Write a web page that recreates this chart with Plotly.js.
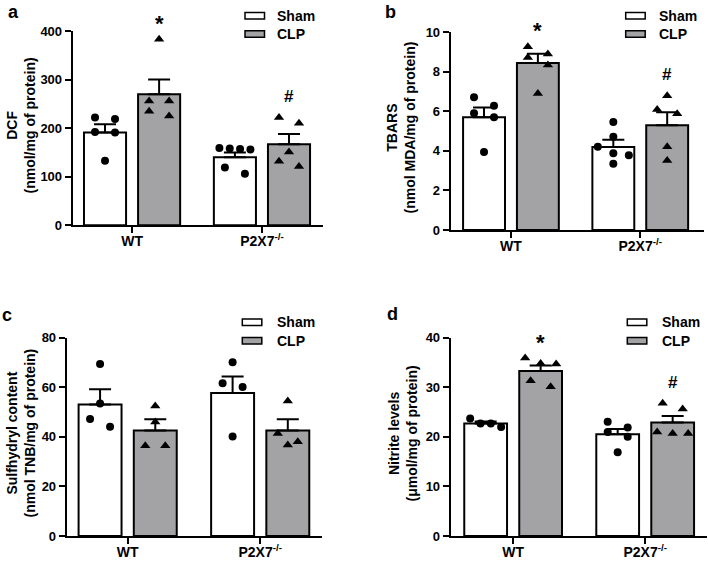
<!DOCTYPE html>
<html><head><meta charset="utf-8">
<script src="https://cdn.plot.ly/plotly-3.0.1.min.js"></script>
<style>html,body{margin:0;padding:0;background:#fff}#chart{width:708px;height:561px}</style>
</head><body><div id="chart"></div>
<script>
// ---------------- DATA ----------------
const groups = ['WT', 'P2X7<sup>-/-</sup>'];
const seriesNames = ['Sham', 'CLP'];

// a: DCF
const dcfShamMean = [191, 140];
const dcfShamSem  = [17, 10];
const dcfClpMean  = [270, 167];
const dcfClpSem   = [30, 21];
const dcfShamWT = [222, 219, 192, 191, 133];
const dcfShamKO = [159, 158, 157, 156, 119, 106];
const dcfClpWT  = [383, 256, 256, 235, 225];
const dcfClpKO  = [222, 210, 151, 132, 121];
const dcfSig = ['*', '#'];

// b: TBARS
const tbarsShamMean = [5.70, 4.20];
const tbarsShamSem  = [0.49, 0.37];
const tbarsClpMean  = [8.45, 5.30];
const tbarsClpSem   = [0.47, 0.65];
const tbarsShamWT = [6.71, 6.29, 5.90, 5.70, 3.95];
const tbarsShamKO = [5.46, 4.72, 4.21, 3.88, 3.78, 3.35];
const tbarsClpWT  = [9.27, 8.90, 8.73, 8.35, 6.91];
const tbarsClpKO  = [6.79, 6.09, 5.88, 4.21, 3.51];
const tbarsSig = ['*', '#'];

// c: Sulfhydryl content
const shShamMean = [53.1, 57.7];
const shShamSem  = [6.1, 6.6];
const shClpMean  = [42.6, 42.6];
const shClpSem   = [4.5, 4.5];
const shShamWT = [69.4, 53.5, 47.2, 44.1];
const shShamKO = [70.1, 61.6, 60.1, 40.1];
const shClpWT  = [52.4, 46.0, 36.4, 36.4];
const shClpKO  = [54.5, 41.4, 38.0, 36.7];
const shSig = ['', ''];

// d: Nitrite
const noShamMean = [22.7, 20.5];
const noShamSem  = [0.4, 1.1];
const noClpMean  = [33.3, 22.9];
const noClpSem   = [1.1, 1.3];
const noShamWT = [23.7, 22.7, 22.7, 22.0];
const noShamKO = [23.05, 21.9, 21.0, 20.0, 16.9];
const noClpWT  = [35.9, 34.8, 34.7, 31.3, 30.1];
const noClpKO  = [26.8, 25.6, 21.0, 20.7, 20.7];
const noSig = ['*', '#'];

// ---------------- LAYOUT CONFIG ----------------
const W = 708, H = 561;
const BARGAP = 0.167, GROUPGAP = 0.222;
const OFF = (1 - BARGAP) / 4;
const GRAY = '#a3a3a6';
const FONT = 'Liberation Sans, Arial, Helvetica, sans-serif';

const panels = [
  {letter:'a', title:'DCF<br>(nmol/mg of protein)',
   sham:[dcfShamMean, dcfShamSem, [dcfShamWT, dcfShamKO]], clp:[dcfClpMean, dcfClpSem, [dcfClpWT, dcfClpKO]], sig:dcfSig,
   yr:[0,400], dtick:100, box:{l:72.7, r:323, t:31, b:225.3}, xr:[-0.457, 1.47],
   leg:{bx:245, tx:275, y1:15.7, y2:34}, lp:[13.8, 11.5], tp:[20.5, 126]},
  {letter:'b', title:'TBARS<br>(nmol MDA/mg of protein)',
   sham:[tbarsShamMean, tbarsShamSem, [tbarsShamWT, tbarsShamKO]], clp:[tbarsClpMean, tbarsClpSem, [tbarsClpWT, tbarsClpKO]], sig:tbarsSig,
   yr:[0,10], dtick:2, box:{l:450.7, r:704, t:32.3, b:230}, xr:[-0.466, 1.493],
   leg:{bx:625.7, tx:657.3, y1:15.7, y2:34}, lp:[390.7, 11.5], tp:[400.5, 128]},
  {letter:'c', title:'Sulfhydryl content<br>(nmol TNB/mg of protein)',
   sham:[shShamMean, shShamSem, [shShamWT, shShamKO]], clp:[shClpMean, shClpSem, [shClpWT, shClpKO]], sig:shSig,
   yr:[0,80], dtick:20, box:{l:66.7, r:321.7, t:337.7, b:536}, xr:[-0.46, 1.464],
   leg:{bx:242.3, tx:275, y1:322.3, y2:340.7}, lp:[6.7, 315], tp:[20.5, 433]},
  {letter:'d', title:'Nitrite levels<br>(μmol/mg of protein)',
   sham:[noShamMean, noShamSem, [noShamWT, noShamKO]], clp:[noClpMean, noClpSem, [noClpWT, noClpKO]], sig:noSig,
   yr:[0,40], dtick:10, box:{l:450.7, r:706.7, t:337.7, b:536}, xr:[-0.473, 1.466],
   leg:{bx:627.3, tx:660, y1:322.3, y2:340.7}, lp:[392.3, 314], tp:[402.5, 434]}
];

const px = x => x / W;
const py = y => 1 - y / H;

// Spread points of similar value horizontally (GraphPad-like rows)
function swarm(vals, pxPerY, pxPerX) {
  const idx = vals.map((v, i) => i).sort((a, b) => vals[b] - vals[a]);
  const off = new Array(vals.length).fill(0);
  let i = 0;
  while (i < idx.length) {
    let j = i + 1;
    while (j < idx.length && (vals[idx[i]] - vals[idx[j]]) * pxPerY < 9) j++;
    const n = j - i;
    const total = n === 1 ? 0 : Math.min(20 * (n - 1), 31);
    for (let k = 0; k < n; k++) {
      off[idx[i + k]] = (n === 1 ? 0 : (-total / 2 + total * k / (n - 1))) / pxPerX;
    }
    i = j;
  }
  return off;
}

const data = [];
const layout = {
  width: W, height: H, margin: {l:0, r:0, t:0, b:0},
  paper_bgcolor: '#fff', plot_bgcolor: 'rgba(0,0,0,0)',
  showlegend: false, barmode: 'group', bargap: BARGAP, bargroupgap: GROUPGAP,
  font: {family: FONT, color: '#000'},
  annotations: [], shapes: []
};
function annotations_push(a) { layout.annotations.push(a); }

panels.forEach((p, pi) => {
  const n = pi === 0 ? '' : String(pi + 1);
  const xa = 'x' + n, ya = 'y' + n;
  const b = p.box;
  const pxPerX = (b.r - b.l) / (p.xr[1] - p.xr[0]);
  const pxPerY = (b.b - b.t) / (p.yr[1] - p.yr[0]);

  const axisCommon = {
    showline: true, linewidth: 2, linecolor: '#000', showgrid: false, zeroline: false,
    ticks: 'outside', ticklen: 6, tickwidth: 2, tickcolor: '#000', fixedrange: true
  };
  layout['xaxis' + n] = Object.assign({}, axisCommon, {
    domain: [px(b.l), px(b.r)], range: p.xr, anchor: ya,
    tickmode: 'array', tickvals: [0, 1], ticktext: groups, ticklabelstandoff: -4,
    tickfont: {family: FONT, size: 14, color: '#000', weight: 'bold'}
  });
  layout['yaxis' + n] = Object.assign({}, axisCommon, {
    domain: [py(b.b), py(b.t)], range: p.yr, anchor: xa, dtick: p.dtick, tick0: 0,
    tickfont: {family: FONT, size: 13, color: '#000', weight: 'bold'}
  });

  [['sham', 'white', 'circle', 8], ['clp', GRAY, 'triangle-up', 9]].forEach(([key, col, sym, msz], si) => {
    const [mean, sem, pts] = p[key];
    data.push({
      type: 'bar', name: seriesNames[si], x: [0, 1], y: mean, xaxis: xa, yaxis: ya,
      marker: {color: col, line: {color: '#000', width: 2}},
      error_y: {type: 'data', symmetric: false, array: sem, arrayminus: [0, 0], color: '#000', thickness: 2, width: 11},
      hoverinfo: 'skip'
    });
    const sx = [], sy = [];
    const sign = si === 0 ? -1 : 1;
    pts.forEach((vals, gi) => {
      const off = swarm(vals, pxPerY, pxPerX);
      vals.forEach((v, k) => { sx.push(gi + sign * OFF + off[k]); sy.push(v); });
    });
    data.push({
      type: 'scatter', mode: 'markers', name: seriesNames[si] + ' points', x: sx, y: sy, xaxis: xa, yaxis: ya,
      marker: {symbol: sym, size: msz, color: '#000'}, cliponaxis: false, hoverinfo: 'skip'
    });
  });

  // significance markers above CLP bars
  p.sig.forEach((s, gi) => {
    if (!s) return;
    const top = Math.max(p.clp[0][gi] + p.clp[1][gi], ...p.clp[2][gi]);
    annotations_push({
      xref: xa, yref: ya, x: gi + OFF, y: top, yshift: s === '*' ? 16 : 21,
      text: s, showarrow: false, xanchor: 'center', yanchor: 'middle',
      font: {family: FONT, size: s === '*' ? 22 : 17, color: '#000', weight: 'bold'}
    });
  });

  // panel letter
  annotations_push({xref: 'paper', yref: 'paper', x: px(p.lp[0]), y: py(p.lp[1]), text: p.letter,
    showarrow: false, xanchor: 'center', yanchor: 'middle',
    font: {family: FONT, size: 18, color: '#000', weight: 'bold'}});
  // y-axis title
  annotations_push({xref: 'paper', yref: 'paper', x: px(p.tp[0]), y: py(p.tp[1]), text: p.title,
    showarrow: false, xanchor: 'center', yanchor: 'middle', textangle: -90,
    font: {family: FONT, size: 14, color: '#000', weight: 'bold'}});

  // legend
  [[p.leg.y1, 'white', seriesNames[0]], [p.leg.y2, GRAY, seriesNames[1]]].forEach(([yy, col, name]) => {
    layout.shapes.push({type: 'rect', xref: 'paper', yref: 'paper',
      x0: px(p.leg.bx), x1: px(p.leg.bx + 19.5), y0: py(yy + 3.2), y1: py(yy - 3.2),
      fillcolor: col, line: {color: '#000', width: 1.5}});
    annotations_push({xref: 'paper', yref: 'paper', x: px(p.leg.tx), y: py(yy), text: name,
      showarrow: false, xanchor: 'left', yanchor: 'middle',
      font: {family: FONT, size: 14, color: '#000', weight: 'bold'}});
  });
});

Plotly.newPlot('chart', data, layout, {displayModeBar: false, staticPlot: true});
</script>
</body></html>
